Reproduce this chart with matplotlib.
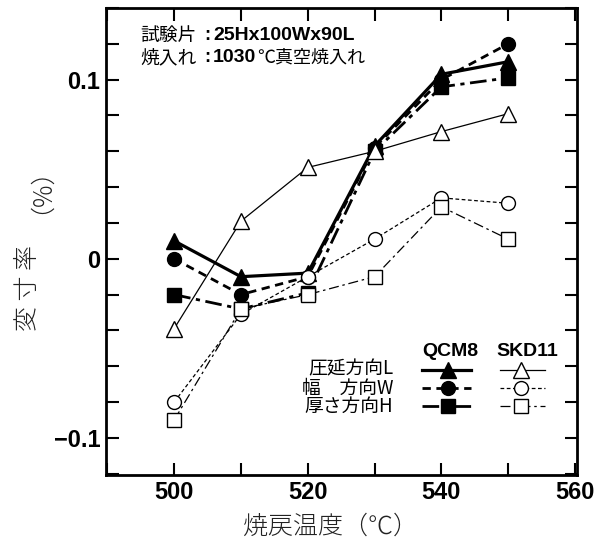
import matplotlib
matplotlib.use("Agg")
import matplotlib.pyplot as plt
from matplotlib.lines import Line2D
from matplotlib.ticker import MultipleLocator, FixedLocator

plt.rcParams['font.family'] = ['Noto Sans CJK JP', 'DejaVu Sans']

temps = [500, 510, 520, 530, 540, 550]
qcm8_L = [0.010, -0.010, -0.008, 0.063, 0.103, 0.110]
qcm8_W = [0.000, -0.020, -0.010, 0.062, 0.100, 0.120]
qcm8_H = [-0.020, -0.028, -0.019, 0.060, 0.096, 0.101]
skd11_L = [-0.039, 0.021, 0.051, 0.060, 0.071, 0.081]
skd11_W = [-0.080, -0.031, -0.010, 0.011, 0.034, 0.031]
skd11_H = [-0.090, -0.028, -0.020, -0.010, 0.029, 0.011]

x_ticks = [500, 520, 540, 560]
y_ticks = [-0.1, 0, 0.1]
y_tick_labels = ['\u22120.1', '0', '0.1']
row_labels = ['圧延方向L', '幅\u3000方向W', '厚さ方向H']
col_labels = ['QCM8', 'SKD11']

fig = plt.figure(figsize=(6.08, 5.41), dpi=100)
ax = fig.add_axes([106/608, (541-475)/541, 471/608, 467/541])

ls_L = '-'
ls_W = (0, (3, 2))
ls_H = (0, (6, 2, 1.5, 2))
ls_H_thin = (0, (8, 3, 2, 3))

series = [
    (qcm8_L, '^', 11, 2.3, ls_L),
    (qcm8_W, 'o', 10, 2.0, ls_W),
    (qcm8_H, 's', 10, 2.0, ls_H),
]
for y, m, msz, lw, ls in series:
    ax.plot(temps, y, color='black', lw=lw, ls=ls, marker=m, ms=msz,
            mfc='black', mec='black', zorder=3)

series2 = [
    (skd11_L, '^', 11, 0.9, ls_L),
    (skd11_W, 'o', 10, 0.9, ls_W),
    (skd11_H, 's', 10, 0.9, ls_H_thin),
]
for y, m, msz, lw, ls in series2:
    ax.plot(temps, y, color='black', lw=lw, ls=ls, marker=m, ms=msz,
            mfc='white', mec='black', mew=1.0, zorder=4)

ax.set_xlim(489.8, 560.3)
ax.set_ylim(-0.1207, 0.140)
ax.xaxis.set_major_locator(FixedLocator(x_ticks))
ax.xaxis.set_minor_locator(MultipleLocator(10))
ax.yaxis.set_major_locator(FixedLocator(y_ticks))
ax.yaxis.set_minor_locator(MultipleLocator(0.02))
ax.set_yticklabels(y_tick_labels)
ax.tick_params(which='both', direction='in', top=True, right=True,
               length=9, width=1.5)
ax.tick_params(which='major', labelsize=17, pad=4)
for lab in ax.get_xticklabels() + ax.get_yticklabels():
    lab.set_fontfamily('Liberation Sans')
    lab.set_fontweight('bold')
for s in ax.spines.values():
    s.set_linewidth(2)

fig.text(330/608, 1-526/541, '焼戻温度（℃）', ha='center', va='center',
         fontsize=18, fontweight='light', color='#222222')
fig.text(28/608, 1-288/541, '変 寸 率', ha='center', va='center',
         rotation=90, fontsize=18, fontweight='light', color='#222222')
fig.text(28/608, 1-178/541, '（%）', ha='center', va='center',
         rotation=90, fontsize=18, fontweight='light', color='#222222')

fig.canvas.draw()
renderer = fig.canvas.get_renderer()

def px_text(px, py, s, ha='left', **kw):
    t = fig.text(px/608, 1-py/541, s, va='center', ha=ha, **kw)
    bb = t.get_window_extent(renderer)
    return bb.x1

px_text(140, 35, '試験片', fontsize=13.5)
px_text(207, 35, ':', ha='center', fontsize=13, fontweight='bold', family='Liberation Sans')
px_text(213, 35, '25Hx100Wx90L', fontsize=14, fontweight='bold', family='Liberation Sans')
px_text(140, 58, '焼入れ', fontsize=13.5)
px_text(207, 58, ':', ha='center', fontsize=13, fontweight='bold', family='Liberation Sans')
end = px_text(213, 58, '1030', fontsize=14, fontweight='bold', family='Liberation Sans')
end = px_text(end + 1, 58, '℃', fontsize=13)
px_text(end, 58, '真空焼入れ', fontsize=13)

def axfrac(px, py):
    return ((px-106)/471, (475-py)/467)

# legend
for lab, cx in zip(col_labels, [450, 527]):
    x, y = axfrac(cx, 352)
    ax.text(x, y, lab, transform=ax.transAxes, fontsize=14, fontweight='bold',
            family='Liberation Sans', ha='center', va='center')
rows_y = [370, 388, 406]

# row labels as one multi-line text with tight line spacing
fs_rows = 13.5
t1 = fig.text(0, 0, row_labels[0], fontsize=fs_rows)
t3 = fig.text(0, 0, '\n'.join(row_labels), fontsize=fs_rows, linespacing=1.0)
h1 = t1.get_window_extent(renderer).height
h3 = t3.get_window_extent(renderer).height
gap1 = (h3 - h1) / 2
t1.remove(); t3.remove()
ls_needed = (rows_y[1] - rows_y[0]) / gap1
xr, yr = axfrac(393, rows_y[1])
ax.text(xr, yr, '\n'.join(row_labels), transform=ax.transAxes, fontsize=fs_rows,
        ha='right', va='center', multialignment='right', linespacing=ls_needed)

for i, py in enumerate(rows_y):
    _, y = axfrac(0, py)
    _, m, msz, lw, ls = series[i]
    x0, _ = axfrac(422, py); x1, _ = axfrac(471, py); xm, _ = axfrac(448, py)
    ax.add_line(Line2D([x0, x1], [y, y], transform=ax.transAxes, color='black', lw=lw, ls=ls))
    ax.add_line(Line2D([xm], [y], transform=ax.transAxes, marker=m, ms=msz, mfc='black', mec='black', ls='none'))
    _, m2, msz2, lw2, ls2 = series2[i]
    x0, _ = axfrac(500, py); x1, _ = axfrac(545, py); xm, _ = axfrac(521, py)
    ax.add_line(Line2D([x0, x1], [y, y], transform=ax.transAxes, color='black', lw=lw2, ls=ls2))
    ax.add_line(Line2D([xm], [y], transform=ax.transAxes, marker=m2, ms=msz2, mfc='white', mec='black', ls='none', zorder=5))

fig.savefig('out.png', dpi=100)
